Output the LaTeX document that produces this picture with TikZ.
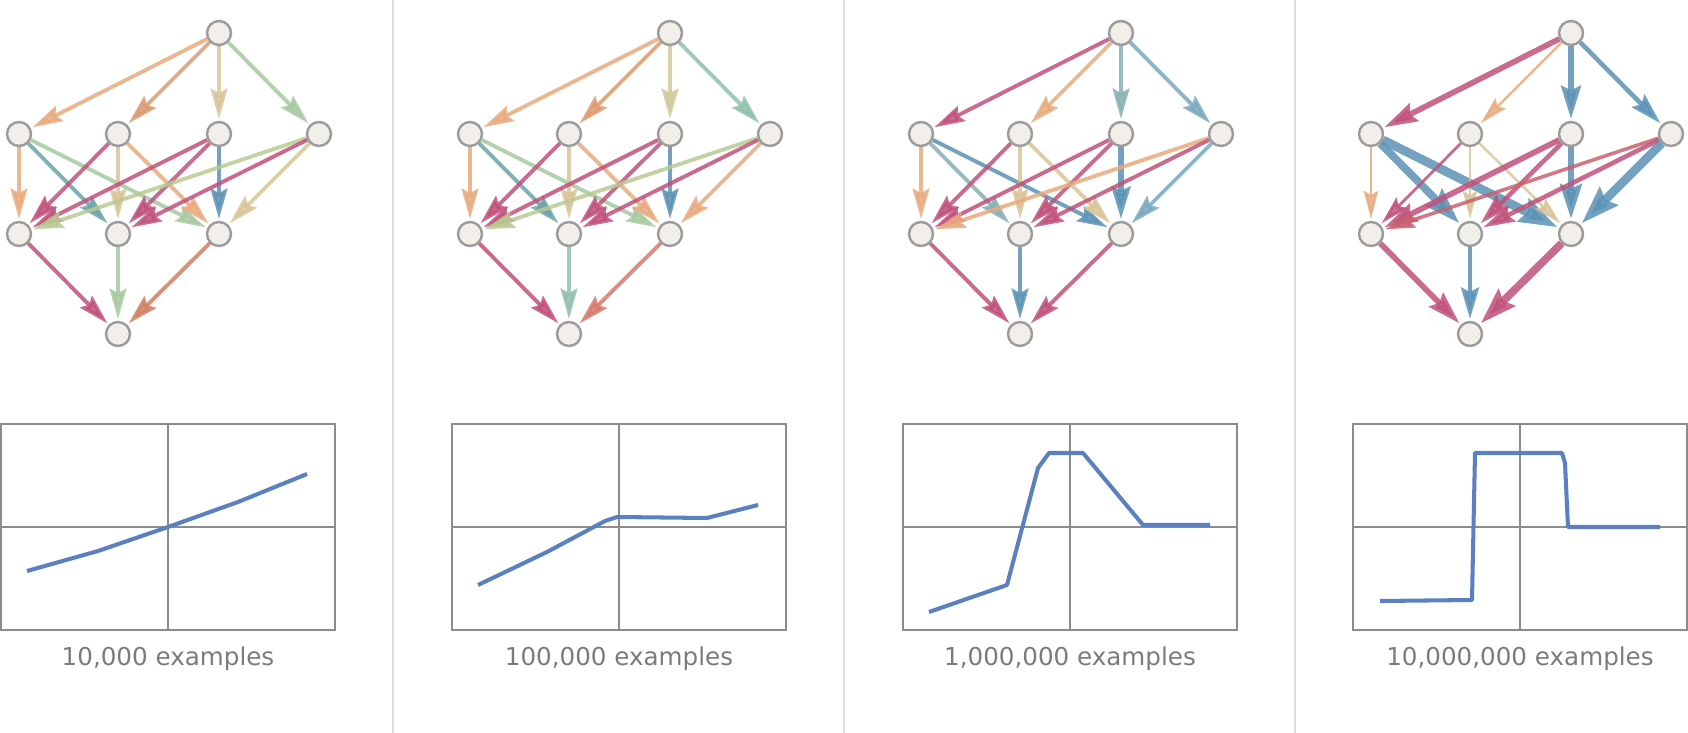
\documentclass[tikz,border=0pt]{standalone}
\usepackage{fontspec}
\setmainfont{DejaVu Sans}
\usetikzlibrary{arrows.meta, positioning}

\definecolor{nodefill}{HTML}{F2EFEA}
\definecolor{nodegray}{HTML}{9C9C9C}
\definecolor{axisgray}{HTML}{8C8C8C}
\definecolor{sepgray}{HTML}{DDDDDD}
\definecolor{capgray}{HTML}{7B7B7B}
\definecolor{curveblue}{HTML}{5A80C0}
\definecolor{peach}{HTML}{E8AA7E}
\definecolor{apricot}{HTML}{DD9A72}
\definecolor{sand}{HTML}{D8C498}
\definecolor{straw}{HTML}{CFC99B}
\definecolor{sage}{HTML}{A6C9A0}
\definecolor{moss}{HTML}{B8CA92}
\definecolor{mint}{HTML}{8FBFAA}
\definecolor{lagoon}{HTML}{6AA3A8}
\definecolor{sea}{HTML}{86B0B2}
\definecolor{sky}{HTML}{7AA8BE}
\definecolor{steel}{HTML}{5A91B4}
\definecolor{berry}{HTML}{C0507A}
\definecolor{brick}{HTML}{C8606E}
\definecolor{rust}{HTML}{D0805F}
\definecolor{coral}{HTML}{D6786C}

\pgfdeclarelayer{edges}
\pgfsetlayers{edges,main}

% the nine units of one network
\newcommand{\netnodes}{%
  \node[neuron] (T)  at (219,33)  {};
  \node[neuron] (M1) at (19,134)  {};
  \node[neuron] (M2) at (118,134) {};
  \node[neuron] (M3) at (219,134) {};
  \node[neuron] (M4) at (319,134) {};
  \node[neuron] (L1) at (19,234)  {};
  \node[neuron] (L2) at (118,234) {};
  \node[neuron] (L3) at (219,234) {};
  \node[neuron] (B)  at (118,334) {};
}
% response frame with axes and caption
\newcommand{\respframe}[2]{%
  \node[plotbox] (#1) at (168,527) {};
  \draw[axis] (#1.north) -- (#1.south);
  \draw[axis] (#1.west) -- (#1.east);
  \node[caption, below=0.32cm of #1] (#1cap) {#2};
}

\begin{document}
\begin{tikzpicture}[
    x=0.02cm, y=-0.02cm,
    neuron/.style={circle, draw=nodegray, fill=nodefill, line width=1.4pt,
                   minimum size=0.48cm, inner sep=0pt},
    link/.style={line width=2.2pt, opacity=0.85, shorten >=1pt,
                 -{Stealth[length=14pt 1.5, width=6pt 1.6, inset=2.5pt]}},
    plotbox/.style={draw=axisgray, line width=0.9pt, minimum width=6.68cm,
                    minimum height=4.12cm, inner sep=0pt},
    axis/.style={draw=axisgray, line width=0.9pt},
    response/.style={draw=curveblue, line width=2.3pt, line join=round},
    caption/.style={text=capgray, inner sep=0pt, font=\fontsize{14}{16}\selectfont},
    divider/.style={draw=sepgray, line width=1.2pt},
]
\useasboundingbox (0,0) rectangle (1688,733);

\draw[divider] (393,0) -- (393,733);
\draw[divider] (844,0) -- (844,733);
\draw[divider] (1295,0) -- (1295,733);

% (a) 10,000 examples
\begin{scope}[shift={(0,0)}]
  \netnodes
  \begin{pgfonlayer}{edges}
  \draw[link, peach]   (T) -- (M1);
  \draw[link, apricot] (T) -- (M2);
  \draw[link, sand]    (T) -- (M3);
  \draw[link, sage]    (T) -- (M4);
  \draw[link, peach]   (M1) -- (L1);
  \draw[link, lagoon]  (M1) -- (L2);
  \draw[link, sage]    (M1) -- (L3);
  \draw[link, berry]   (M2) -- (L1);
  \draw[link, sand]    (M2) -- (L2);
  \draw[link, peach]   (M2) -- (L3);
  \draw[link, berry]   (M3) -- (L1);
  \draw[link, berry]   (M3) -- (L2);
  \draw[link, steel]   (M3) -- (L3);
  \draw[link, moss]    (M4) -- (L1);
  \draw[link, berry]   (M4) -- (L2);
  \draw[link, sand]    (M4) -- (L3);
  \draw[link, berry]   (L1) -- (B);
  \draw[link, sage]    (L2) -- (B);
  \draw[link, rust]    (L3) -- (B);
  \end{pgfonlayer}
  \respframe{P1}{10,000 examples}
  \draw[response, shift={(168,527)}] (-141,44) -- (-70,24) -- (0,0) -- (70,-25) -- (139,-53);
\end{scope}

% (b) 100,000 examples
\begin{scope}[shift={(451,0)}]
  \netnodes
  \begin{pgfonlayer}{edges}
  \draw[link, peach]   (T) -- (M1);
  \draw[link, apricot] (T) -- (M2);
  \draw[link, straw]   (T) -- (M3);
  \draw[link, mint]    (T) -- (M4);
  \draw[link, peach]   (M1) -- (L1);
  \draw[link, lagoon]  (M1) -- (L2);
  \draw[link, sage]    (M1) -- (L3);
  \draw[link, berry]   (M2) -- (L1);
  \draw[link, sand]    (M2) -- (L2);
  \draw[link, peach]   (M2) -- (L3);
  \draw[link, berry]   (M3) -- (L1);
  \draw[link, berry]   (M3) -- (L2);
  \draw[link, steel]   (M3) -- (L3);
  \draw[link, moss]    (M4) -- (L1);
  \draw[link, berry]   (M4) -- (L2);
  \draw[link, peach]   (M4) -- (L3);
  \draw[link, berry]   (L1) -- (B);
  \draw[link, mint]    (L2) -- (B);
  \draw[link, coral]   (L3) -- (B);
  \end{pgfonlayer}
  \respframe{P2}{100,000 examples}
  \draw[response, shift={(168,527)}] (-141,58) -- (-72,25) -- (-14,-6) -- (-2,-10) -- (88,-9) -- (139,-22);
\end{scope}

% (c) 1,000,000 examples
\begin{scope}[shift={(902,0)}]
  \netnodes
  \begin{pgfonlayer}{edges}
  \draw[link, berry]   (T) -- (M1);
  \draw[link, peach]   (T) -- (M2);
  \draw[link, sea]     (T) -- (M3);
  \draw[link, sky]     (T) -- (M4);
  \draw[link, peach]   (M1) -- (L1);
  \draw[link, sea]     (M1) -- (L2);
  \draw[link, steel]   (M1) -- (L3);
  \draw[link, berry]   (M2) -- (L1);
  \draw[link, sand]    (M2) -- (L2);
  \draw[link, sand]    (M2) -- (L3);
  \draw[link, berry]   (M3) -- (L1);
  \draw[link, berry]   (M3) -- (L2);
  \draw[link, steel, line width=3pt] (M3) -- (L3);
  \draw[link, peach]   (M4) -- (L1);
  \draw[link, berry]   (M4) -- (L2);
  \draw[link, sky]     (M4) -- (L3);
  \draw[link, berry]   (L1) -- (B);
  \draw[link, steel]   (L2) -- (B);
  \draw[link, berry]   (L3) -- (B);
  \end{pgfonlayer}
  \respframe{P3}{1,000,000 examples}
  \draw[response, shift={(168,527)}] (-141,85) -- (-63,58) -- (-32,-59) -- (-21,-74) -- (13,-74) -- (73,-2) -- (140,-2);
\end{scope}

% (d) 10,000,000 examples
\begin{scope}[shift={(1352,0)}]
  \netnodes
  \begin{pgfonlayer}{edges}
  \draw[link, berry, line width=3.2pt] (T) -- (M1);
  \draw[link, peach, line width=1.4pt] (T) -- (M2);
  \draw[link, steel, line width=3.2pt] (T) -- (M3);
  \draw[link, steel, line width=2.6pt] (T) -- (M4);
  \draw[link, peach, line width=1.4pt] (M1) -- (L1);
  \draw[link, steel, line width=4.4pt] (M1) -- (L2);
  \draw[link, steel, line width=5pt]   (M1) -- (L3);
  \draw[link, berry, line width=1.6pt] (M2) -- (L1);
  \draw[link, sand,  line width=1.4pt] (M2) -- (L2);
  \draw[link, sand,  line width=1.4pt] (M2) -- (L3);
  \draw[link, berry, line width=3.2pt] (M3) -- (L1);
  \draw[link, berry, line width=2.6pt] (M3) -- (L2);
  \draw[link, steel, line width=3.8pt] (M3) -- (L3);
  \draw[link, brick, line width=2pt]   (M4) -- (L1);
  \draw[link, berry, line width=2.6pt] (M4) -- (L2);
  \draw[link, steel, line width=5pt]   (M4) -- (L3);
  \draw[link, berry, line width=3.2pt] (L1) -- (B);
  \draw[link, steel, line width=2.6pt] (L2) -- (B);
  \draw[link, berry, line width=4.4pt] (L3) -- (B);
  \end{pgfonlayer}
  \respframe{P4}{10,000,000 examples}
  \draw[response, shift={(168,527)}] (-140,74) -- (-48,73) -- (-45,-74) -- (42,-74) -- (45,-64) -- (48,0) -- (140,0);
\end{scope}
\end{tikzpicture}
\end{document}
